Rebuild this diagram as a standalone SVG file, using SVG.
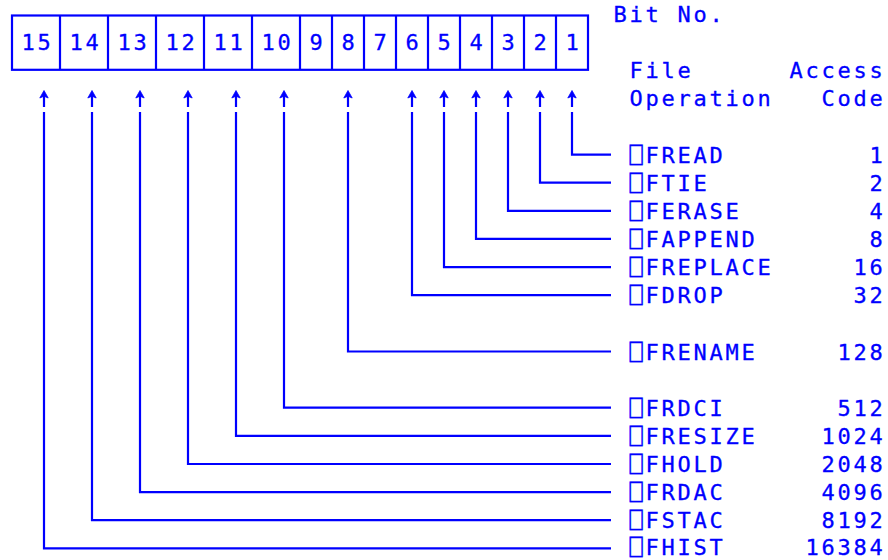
<svg xmlns="http://www.w3.org/2000/svg" width="888" height="560" viewBox="0 0 888 560">
<defs>
<style>
text{font-family:"DejaVu Sans Mono","Liberation Mono",monospace;font-size:22px;letter-spacing:2.755px;fill:#0000ff;stroke:#0000ff;stroke-width:0.3px}
.ln{fill:none;stroke:#0000ff;stroke-width:2.2}
.ah{fill:#0000ff;stroke:#0000ff;stroke-width:0.8;stroke-linejoin:round}
</style>
<g id="arrowhead"><path class="ln" d="M0,4 V17"/><polygon class="ah" points="0,0.5 -4.2,8 0,6.2 4.2,8"/></g>
</defs>
<rect width="888" height="560" fill="#ffffff"/>
<g id="register">
<rect class="ln" x="12" y="15.5" width="576" height="54.3"/>
<path class="ln" d="M60,15.5V69.8M108,15.5V69.8M156,15.5V69.8M204,15.5V69.8M252,15.5V69.8M300,15.5V69.8M332,15.5V69.8M364,15.5V69.8M396,15.5V69.8M428,15.5V69.8M460,15.5V69.8M492,15.5V69.8M524,15.5V69.8M556,15.5V69.8"/>
<text x="21.4" y="50">15</text>
<text x="69.4" y="50">14</text>
<text x="117.4" y="50">13</text>
<text x="165.4" y="50">12</text>
<text x="213.4" y="50">11</text>
<text x="261.4" y="50">10</text>
<text x="309.4" y="50">9</text>
<text x="341.4" y="50">8</text>
<text x="373.4" y="50">7</text>
<text x="405.4" y="50">6</text>
<text x="437.4" y="50">5</text>
<text x="469.4" y="50">4</text>
<text x="501.4" y="50">3</text>
<text x="533.4" y="50">2</text>
<text x="565.4" y="50">1</text>
</g>
<g id="headers">
<text x="613.4" y="21.9">Bit No.</text>
<text x="629.4" y="78.2">File</text>
<text x="789.4" y="78.2">Access</text>
<text x="629.4" y="106.3">Operation</text>
<text x="821.4" y="106.3">Code</text>
</g>
<g id="connectors">
<use href="#arrowhead" x="44" y="90"/>
<use href="#arrowhead" x="92" y="90"/>
<use href="#arrowhead" x="140" y="90"/>
<use href="#arrowhead" x="188" y="90"/>
<use href="#arrowhead" x="236" y="90"/>
<use href="#arrowhead" x="284" y="90"/>
<use href="#arrowhead" x="348" y="90"/>
<use href="#arrowhead" x="412" y="90"/>
<use href="#arrowhead" x="444" y="90"/>
<use href="#arrowhead" x="476" y="90"/>
<use href="#arrowhead" x="508" y="90"/>
<use href="#arrowhead" x="540" y="90"/>
<use href="#arrowhead" x="572" y="90"/>
<path class="ln" d="M572,112V154.6H611"/>
<path class="ln" d="M540,112V182.7H611"/>
<path class="ln" d="M508,112V210.8H611"/>
<path class="ln" d="M476,112V238.9H611"/>
<path class="ln" d="M444,112V267.1H611"/>
<path class="ln" d="M412,112V295.2H611"/>
<path class="ln" d="M348,112V351.5H611"/>
<path class="ln" d="M284,112V407.7H611"/>
<path class="ln" d="M236,112V435.9H611"/>
<path class="ln" d="M188,112V464H611"/>
<path class="ln" d="M140,112V492.1H611"/>
<path class="ln" d="M92,112V520.2H611"/>
<path class="ln" d="M44,112V548.4H611"/>
</g>
<g id="op-fread"><text x="629.4" y="162.6">⎕FREAD</text><text x="869.4" y="162.6">1</text></g>
<g id="op-ftie"><text x="629.4" y="190.7">⎕FTIE</text><text x="869.4" y="190.7">2</text></g>
<g id="op-ferase"><text x="629.4" y="218.8">⎕FERASE</text><text x="869.4" y="218.8">4</text></g>
<g id="op-fappend"><text x="629.4" y="246.9">⎕FAPPEND</text><text x="869.4" y="246.9">8</text></g>
<g id="op-freplace"><text x="629.4" y="275.1">⎕FREPLACE</text><text x="853.4" y="275.1">16</text></g>
<g id="op-fdrop"><text x="629.4" y="303.2">⎕FDROP</text><text x="853.4" y="303.2">32</text></g>
<g id="op-frename"><text x="629.4" y="359.5">⎕FRENAME</text><text x="837.4" y="359.5">128</text></g>
<g id="op-frdci"><text x="629.4" y="415.7">⎕FRDCI</text><text x="837.4" y="415.7">512</text></g>
<g id="op-fresize"><text x="629.4" y="443.9">⎕FRESIZE</text><text x="821.4" y="443.9">1024</text></g>
<g id="op-fhold"><text x="629.4" y="472">⎕FHOLD</text><text x="821.4" y="472">2048</text></g>
<g id="op-frdac"><text x="629.4" y="500.1">⎕FRDAC</text><text x="821.4" y="500.1">4096</text></g>
<g id="op-fstac"><text x="629.4" y="528.2">⎕FSTAC</text><text x="821.4" y="528.2">8192</text></g>
<g id="op-fhist"><text x="629.4" y="554.7">⎕FHIST</text><text x="805.4" y="554.7">16384</text></g>
</svg>
